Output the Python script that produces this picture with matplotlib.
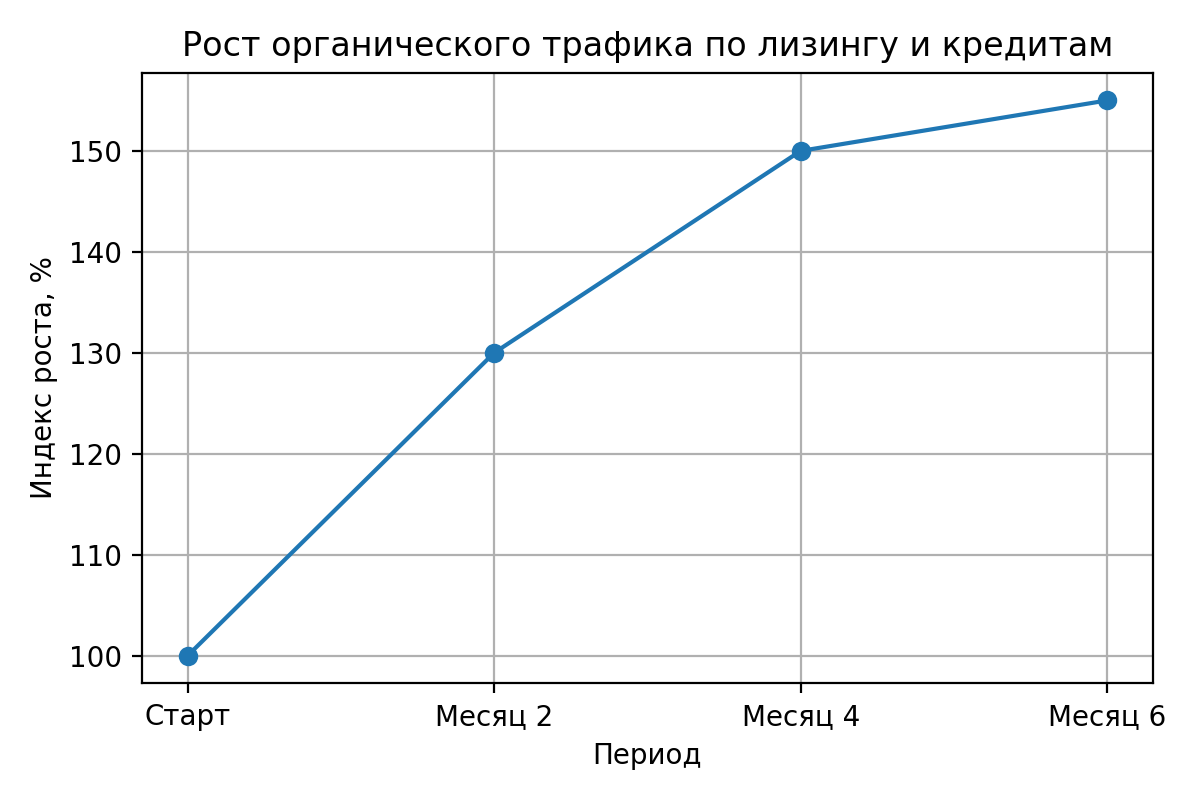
import matplotlib.pyplot as plt

periods = ['Старт', 'Месяц 2', 'Месяц 4', 'Месяц 6']
growth_index = [100, 130, 150, 155]

fig = plt.figure(figsize=(6, 4), dpi=200)
plt.plot(periods, growth_index, marker='o')
plt.title('Рост органического трафика по лизингу и кредитам')
plt.xlabel('Период')
plt.ylabel('Индекс роста, %')
plt.grid(True)
plt.tight_layout()
plt.savefig('out.png', dpi=200)
